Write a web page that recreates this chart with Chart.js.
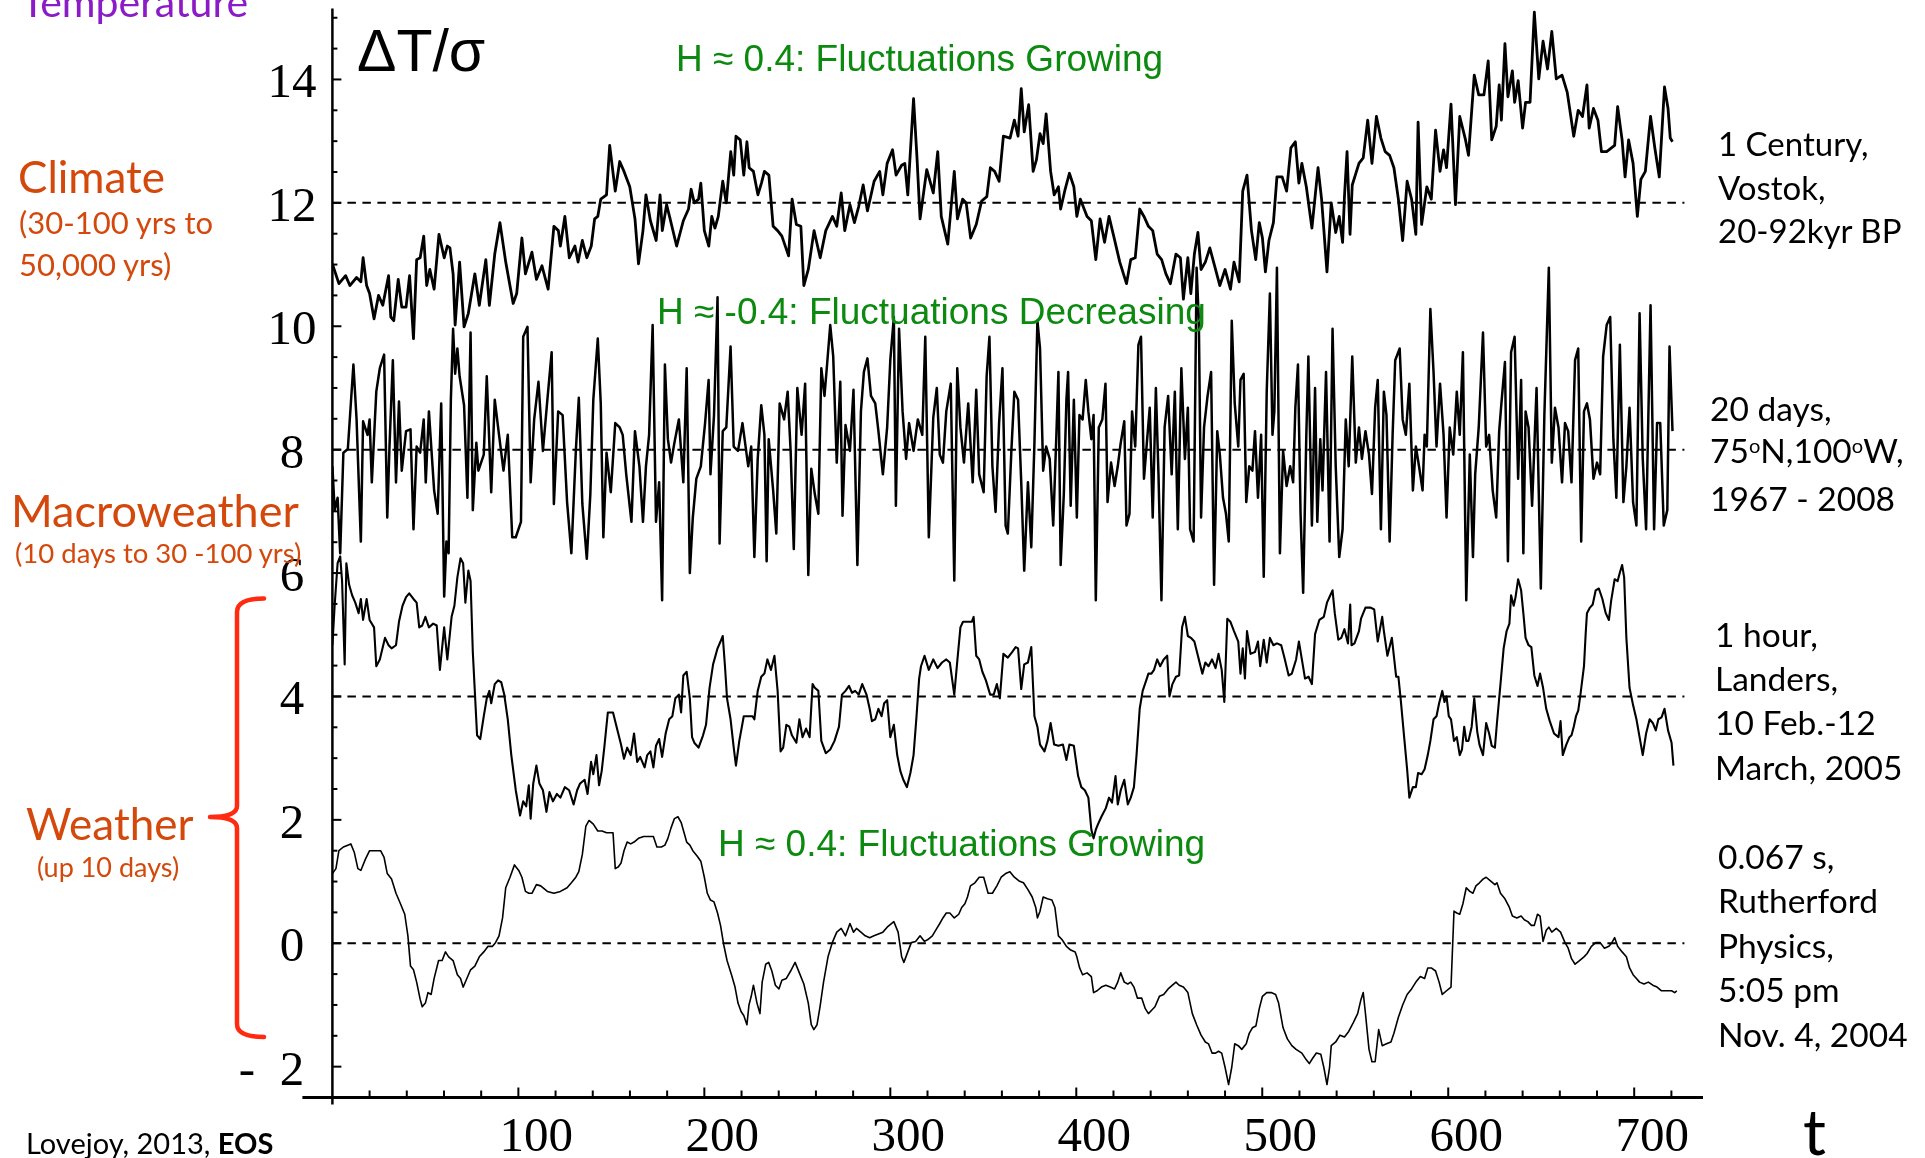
<!DOCTYPE html>
<html><head><meta charset="utf-8">
<script src="https://cdn.jsdelivr.net/npm/chart.js@4.4.1/dist/chart.umd.min.js"></script>
<style>
html,body{margin:0;padding:0;background:#fff;}
#wrap{position:relative;width:1925px;height:1158px;overflow:hidden;background:#fff;}
#c{position:absolute;left:0;top:0;}
.t{position:absolute;white-space:nowrap;margin:0;}
.lato{font-family:Lato,'Open Sans',sans-serif;line-height:1.2;}
.sans{font-family:'Liberation Sans',Arial,sans-serif;line-height:1.117;}
.orange{color:#D4480C;}
.green{color:#0C8A10;}
.blk{color:#000;}
.sup{font-size:0.6em;position:relative;top:-0.5em;}
</style></head>
<body><div id="wrap">
<canvas id="c" width="1925" height="1158"></canvas>
<div class="t lato" style="left:21px;top:-23.5px;font-size:41px;color:#8B1BC6;">Temperature</div>
<div class="t lato orange" style="left:18px;top:149.6px;font-size:44px;">Climate</div>
<div class="t lato orange" style="left:19px;top:204.4px;font-size:31px;">(30-100 yrs to</div>
<div class="t lato orange" style="left:19px;top:246.4px;font-size:31px;">50,000 yrs)</div>
<div class="t lato orange" style="left:11px;top:482.6px;font-size:45px;">Macroweather</div>
<div class="t lato orange" style="left:15px;top:535.9px;font-size:27.5px;">(10 days to 30 -100 yrs)</div>
<div class="t lato orange" style="left:26px;top:796.6px;font-size:44px;">Weather</div>
<div class="t lato orange" style="left:37px;top:851.4px;font-size:27px;">(up 10 days)</div>
<div class="t lato blk" style="left:26px;top:1126.4px;font-size:29px;">Lovejoy, 2013, <b>EOS</b></div>
<div class="t sans blk" style="left:357px;top:18.6px;font-size:59px;">ΔT/σ</div>
<div class="t sans green" style="left:676px;top:37.5px;font-size:37px;">H ≈ 0.4: Fluctuations Growing</div>
<div class="t sans green" style="left:657px;top:290.5px;font-size:37px;">H ≈ -0.4: Fluctuations Decreasing</div>
<div class="t sans green" style="left:718px;top:822.5px;font-size:37px;">H ≈ 0.4: Fluctuations Growing</div>
<div class="t lato blk" style="left:1718px;top:122.1px;font-size:33px;line-height:43.5px;">1 Century,<br>Vostok,<br>20-92kyr BP</div>
<div class="t lato blk" style="left:1710px;top:386.6px;font-size:33.5px;line-height:42.5px;">20 days,<br>75<span class="sup">o</span>N,100<span class="sup">o</span>W,<br>1967 - 2008</div>
<div class="t lato blk" style="left:1715px;top:611.7px;font-size:33.5px;line-height:44.3px;">1 hour,<br>Landers,<br>10 Feb.-12<br>March, 2005</div>
<div class="t lato blk" style="left:1718px;top:833.6px;font-size:33.5px;line-height:44.5px;">0.067 s,<br>Rutherford<br>Physics,<br>5:05 pm<br>Nov. 4, 2004</div>
<div class="t lato blk" style="left:1803px;top:1092.8px;font-size:64px;">t</div>
</div>
<script>
// ---- tick definitions ----
const xTickLabels = [100, 200, 300, 400, 500, 600, 700];
const yTickLabels = [-2, 0, 2, 4, 6, 8, 10, 12, 14];
const refLevels = [12, 8, 4, 0];
const refSpan = [0, 727];

// ---- series 1: 1 Century, Vostok (around 12) ----
const vostokT = [0,3.5,7.1,9.4,13.0,15.3,16.5,18.4,20.0,22.4,
24.8,27.1,30.2,31.4,33.0,35.4,37.3,39.6,41.5,43.6,
45.3,47.2,49.1,50.7,52.4,54.7,57.3,60.1,61.8,63.2,
64.9,66.0,68.4,70.8,73.1,76.6,79.0,82.5,84.4,87.3,
90.1,93.2,97.2,99.1,101.9,103.8,107.3,109.7,112.7,116.0,
119.1,121.5,122.6,125.0,127.4,130.4,132.1,134.4,136.8,139.2,
141.0,142.7,144.3,147.4,149.1,152.1,154.5,156.8,159.9,162.7,
164.6,167.0,168.6,171.0,174.1,176.2,177.4,179.7,181.6,185.1,
188.7,191.5,192.9,194.6,196.9,198.1,200.0,202.4,204.0,205.7,
207.5,209.9,211.8,214.2,215.8,217.0,219.3,221.2,222.9,224.1,
226.4,228.8,230.7,232.3,234.7,237.0,239.4,241.7,245.3,247.2,
249.5,251.9,253.5,255.9,259.0,262.3,265.3,268.9,271.2,273.6,
275.5,278.3,280.7,283.0,285.4,287.7,291.3,294.3,296.0,298.3,
301.2,303.1,306.1,307.8,309.4,312.5,314.4,316.0,319.6,323.1,
325.5,327.4,330.9,334.4,336.1,338.9,340.8,343.2,346.2,349.1,
351.9,353.8,356.1,358.5,360.8,364.4,366.7,
368.7,370.4,372.0,374.4,376.8,378.6,380.5,382.2,383.8,386.2,
388.1,390.4,391.6,394.0,396.3,398.7,400.3,402.2,405.8,408.1,
410.5,412.8,415.2,417.6,419.9,423.4,427.0,429.3,431.7,434.1,
436.4,438.8,441.1,443.5,445.9,448.2,450.6,453.6,456.0,457.6,
460.0,461.6,463.5,465.4,467.1,469.4,471.8,474.1,477.2,480.0,
482.9,484.8,487.6,489.5,491.8,494.2,496.5,498.4,500.1,501.7,
503.6,506.0,507.9,510.7,513.1,515.4,517.8,519.7,521.3,523.7,
526.7,530.0,531.9,534.8,537.1,539.5,541.4,543.2,544.2,545.6,
547.2,548.4,552.0,554.3,556.7,559.0,561.4,563.8,566.1,568.5,
570.8,573.2,575.5,577.9,580.3,582.6,583.8,585.7,588.5,590.9,
593.2,595.6,597.5,599.1,601.5,603.9,606.2,609.3,610.9,614.0,
616.4,619.2,621.5,623.4,625.8,627.4,628.6,630.5,632.1,634.5,
635.7,637.6,640.0,641.6,644.0,646.3,648.7,651.0,653.4,655.7,
658.1,661.2,664.0,667.5,669.9,672.2,674.6,675.8,678.1,680.5,
682.4,685.2,689.5,691.1,693.5,695.1,697.0,699.4,701.7,703.6,
706.0,708.8,711.1,713.5,716.3,718.2,719.4,720.6];
const vostokV = [11.01,10.69,10.82,10.66,10.79,10.72,11.11,10.66,10.53,10.12,
10.50,10.34,10.82,10.15,10.09,10.76,10.31,10.31,10.82,9.80,
11.08,11.11,11.46,10.66,10.92,10.60,11.49,11.11,11.30,11.27,
10.85,10.02,11.04,9.99,10.21,10.85,10.34,11.08,10.34,11.17,
11.68,11.04,10.37,10.53,11.43,10.85,11.20,10.76,10.98,10.60,
11.62,11.55,11.30,11.78,11.11,11.30,11.04,11.39,11.11,11.30,
11.74,11.78,12.06,12.13,12.93,12.19,12.67,12.51,12.26,11.74,
11.01,11.55,12.13,11.71,11.39,12.13,11.55,11.97,11.74,11.30,
11.71,11.90,12.22,12.00,12.06,12.32,11.55,11.30,11.78,11.59,
11.78,12.35,12.00,12.83,12.45,13.08,13.02,12.45,12.99,12.57,
12.51,12.13,12.32,12.51,12.45,11.62,11.55,11.46,11.14,12.06,
11.65,11.62,10.66,10.92,11.55,11.11,11.55,11.78,11.62,12.16,
11.55,11.97,11.68,11.94,12.29,11.87,12.35,12.51,12.13,12.64,
12.86,12.45,12.61,12.64,12.13,13.69,12.70,11.74,12.54,12.16,
12.83,11.78,11.33,12.51,11.74,12.06,12.00,11.43,11.65,12.03,
12.10,12.57,12.51,12.35,13.08,13.05,13.34,
13.08,13.85,13.15,13.59,12.51,12.70,13.12,12.96,13.44,12.51,
12.13,12.26,11.90,12.22,12.48,12.26,11.78,12.06,11.78,11.71,
11.08,11.74,11.36,11.78,11.49,11.04,10.69,11.08,11.11,11.90,
11.78,11.62,11.55,11.17,11.08,10.85,10.69,11.17,11.11,10.44,
11.11,10.53,11.17,11.52,10.92,11.04,11.27,11.01,10.66,10.92,
10.60,11.04,10.72,12.19,12.45,11.55,11.08,11.68,11.43,10.88,
11.39,11.68,12.42,12.42,12.19,12.89,12.99,12.32,12.64,12.26,
11.59,12.57,12.06,10.88,12.00,11.52,11.78,11.36,12.10,12.83,
11.49,12.29,12.64,12.73,13.34,12.64,13.40,13.05,12.83,12.77,
12.57,12.06,11.39,12.35,12.06,11.49,13.31,11.65,12.26,12.06,
13.18,12.51,12.86,12.57,13.60,11.97,13.40,13.02,12.77,14.07,
13.75,13.75,14.30,13.02,13.24,13.91,13.34,14.58,13.72,14.14,
13.63,13.98,13.21,13.63,13.63,15.09,14.01,14.62,14.17,14.78,
14.01,14.07,13.79,13.08,13.50,13.40,13.91,13.21,13.53,13.34,
12.83,12.83,12.93,13.56,13.02,12.42,13.02,12.64,11.78,12.38,
12.51,13.40,12.89,12.42,13.88,13.53,13.05,12.99];

// ---- series 2: 20 days, 75N 100W (around 8) ----
const arcticT = [0.0,1.2,2.8,4.2,5.9,8.3,11.3,13.0,15.3,16.5,
18.9,20.0,21.2,23.6,25.5,27.8,29.5,30.7,32.5,34.2,
35.8,37.3,39.6,42.0,43.6,45.3,47.2,49.1,50.2,51.9,
54.7,56.6,58.5,60.1,61.3,62.5,63.7,64.9,66.0,67.2,
68.4,70.8,72.6,74.3,75.5,77.4,78.5,81.4,83.0,85.4,
87.3,89.6,92.0,94.3,96.7,98.6,101.4,102.6,104.9,106.6,
108.5,110.8,113.2,115.6,117.9,119.1,121.4,123.8,126.2,128.5,
130.9,132.5,134.4,136.8,138.7,140.3,142.7,144.3,145.7,147.4,
149.7,152.1,154.5,156.1,158.0,160.8,162.7,165.1,167.0,168.6,
170.3,172.2,174.0,175.7,177.3,178.8,180.4,182.1,183.9,186.3,
188.7,190.5,192.2,193.8,195.7,198.1,200.4,202.3,203.3,205.2,
207.1,208.2,209.9,211.8,214.1,215.8,218.1,220.5,223.6,225.2,
226.9,228.7,230.6,232.3,233.5,234.6,237.0,238.7,240.5,242.9,
244.8,246.4,248.1,250.0,252.3,254.2,255.9,257.5,259.4,261.3,
262.9,264.6,266.0,267.7,269.3,271.2,273.1,274.3,275.9,278.3,
280.2,282.3,284.2,285.8,287.7,289.6,291.9,293.6,296.0,298.3,
300.0,301.9,303.0,304.7,306.6,308.5,310.1,312.5,314.8,317.2,
318.8,320.7,323.1,325.0,326.6,328.3,330.1,332.5,334.4,336.0,
337.7,339.6,341.9,344.3,346.2,347.8,350.2,351.8,353.3,354.9,
356.6,358.5,360.3,362.0,363.2,365.1,366.7,
368.7,370.4,372.0,374.0,375.8,377.5,379.1,380.5,382.2,383.8,
385.7,387.6,389.3,390.4,391.6,393.3,394.7,395.6,397.0,398.7,
400.3,401.7,403.4,405.1,406.5,408.1,409.3,410.5,412.1,414.0,
415.7,416.8,418.7,420.6,422.3,423.9,425.8,427.0,428.6,430.0,
431.7,433.4,434.8,436.4,437.6,439.5,441.1,442.8,444.2,445.8,
447.5,449.4,451.3,453.0,454.6,456.5,458.4,460.0,461.2,463.1,
464.7,465.9,467.1,468.7,470.6,472.5,474.1,475.8,477.2,478.9,
480.5,482.0,483.6,485.2,487.1,488.3,490.0,491.4,493.0,494.7,
496.1,497.7,499.4,500.8,502.4,504.1,505.5,506.5,507.9,509.5,
511.2,513.1,515.0,516.6,517.8,519.2,520.6,522.0,523.7,524.8,
526.7,528.4,529.6,531.2,532.4,534.3,536.2,537.8,539.5,541.4,
543.2,544.9,546.5,548.4,550.3,552.0,553.6,555.5,557.4,559.0,
560.7,562.1,563.8,565.4,566.8,568.5,570.1,571.5,573.9,575.5,
577.2,579.1,581.0,582.6,584.3,586.2,587.3,588.5,590.4,592.1,
593.7,595.6,597.5,599.1,600.8,602.7,604.6,606.2,607.9,609.7,
611.6,613.3,614.5,616.4,618.7,620.4,622.0,623.9,625.8,627.4,
628.6,630.5,632.1,633.8,635.7,637.6,639.2,640.4,641.6,643.2,
645.1,647.5,649.8,651.7,654.1,655.7,657.4,659.3,661.2,662.8,
664.5,666.3,668.2,669.9,671.5,673.0,674.6,676.2,678.1,680.0,
681.7,683.3,685.2,687.1,688.8,690.4,692.3,694.2,695.8,697.5,
699.4,701.2,702.9,704.6,706.4,708.8,710.7,712.3,714.0,715.9,
717.8,719.0,720.6];
const arcticV = [7.73,7.02,7.22,6.32,7.95,8.01,9.38,8.49,6.51,8.46,
8.24,8.49,7.47,8.94,9.32,9.54,6.90,8.05,9.45,7.47,
8.78,7.66,8.30,8.33,6.71,8.05,7.95,8.49,7.47,8.62,
7.34,6.96,8.75,5.62,6.51,6.32,8.81,9.96,9.23,9.64,
9.19,8.72,7.22,9.90,7.02,8.11,7.66,7.92,9.19,7.31,
8.81,8.24,7.66,8.24,6.58,6.58,6.83,9.83,9.99,7.47,
8.49,9.10,7.98,8.81,9.58,7.12,8.62,8.56,7.15,6.32,
7.98,8.84,7.12,6.23,7.28,8.81,9.80,8.75,6.58,7.95,
7.31,8.43,8.36,8.24,7.60,6.83,8.30,7.73,6.83,7.73,
8.24,10.02,6.83,7.47,5.56,9.38,8.17,7.79,8.11,8.49,
7.47,9.32,6.00,6.90,7.53,7.73,8.43,9.13,7.60,8.56,
10.47,6.48,8.30,8.36,9.67,8.05,7.98,8.43,7.73,8.05,
6.26,7.85,8.72,8.24,6.19,8.17,7.34,6.64,8.75,8.49,
8.94,7.98,6.39,9.00,8.24,9.07,5.97,7.69,7.28,6.96,
9.32,8.87,9.38,10.02,9.51,7.79,9.10,6.93,8.40,7.98,
8.97,6.13,8.62,9.26,9.48,8.87,8.75,8.30,7.60,8.36,
9.45,10.15,7.09,9.96,8.62,7.85,8.43,7.98,8.49,8.24,
9.83,6.58,8.52,9.00,7.92,7.79,8.62,9.07,5.88,9.32,
8.36,7.79,8.75,7.47,8.97,7.60,7.31,9.19,9.83,7.73,
6.99,8.43,9.32,6.77,6.64,7.98,8.94,
8.81,7.47,6.04,7.47,6.42,8.11,10.09,9.64,7.66,8.05,
7.85,6.77,8.24,9.26,6.13,7.28,8.81,9.26,7.09,8.81,
6.90,8.56,8.49,9.13,8.62,8.17,8.56,5.56,8.36,8.49,
9.07,7.15,7.79,7.41,7.73,8.11,8.46,6.77,6.96,8.62,
8.05,9.70,9.83,7.53,7.98,8.68,6.90,9.00,7.60,5.56,
8.36,8.87,7.60,8.94,6.71,9.32,7.85,8.68,6.71,6.51,
10.95,10.09,6.90,8.36,8.87,9.26,5.81,8.30,7.92,7.22,
6.96,6.51,10.09,8.75,8.05,9.13,9.23,7.15,7.73,7.66,
8.30,7.22,8.24,5.94,8.94,10.53,8.24,8.62,10.95,6.32,
7.98,7.41,7.73,7.47,8.68,9.38,6.96,5.68,8.24,9.51,
6.77,9.00,6.83,8.17,7.34,9.26,6.51,9.96,7.73,6.26,
6.71,8.49,7.73,9.51,7.79,8.36,7.85,8.30,7.92,7.28,
8.68,9.13,6.71,8.94,8.56,6.51,8.24,9.45,9.64,8.49,
8.24,9.07,7.34,8.05,7.73,7.34,8.24,8.05,10.28,9.26,
8.05,9.07,8.24,6.90,8.36,7.92,8.94,8.24,9.58,5.56,
7.92,6.26,7.60,8.36,9.90,8.05,8.24,7.34,6.90,8.30,
8.75,9.42,6.19,9.58,9.83,7.53,9.13,6.32,8.62,8.36,
7.09,9.00,5.75,8.56,10.95,7.79,8.68,8.36,7.47,8.43,
8.30,7.47,9.45,9.64,6.51,8.62,8.75,8.49,7.53,7.79,
7.60,9.51,10.02,10.15,8.17,7.22,9.70,7.15,7.73,8.68,
7.15,6.77,10.21,7.85,6.71,10.34,6.71,8.43,8.43,6.77,
7.02,9.67,8.30];

// ---- series 3: 1 hour, Landers (around 4) ----
const landersT = [0.0,1.2,2.8,4.2,5.2,6.6,7.5,9.0,10.6,12.3,
14.1,15.3,16.5,18.4,20.0,22.4,23.6,25.5,28.3,30.2,
31.8,34.2,35.8,37.7,39.6,41.3,43.6,45.3,46.7,48.3,
50.0,51.9,54.2,56.1,57.8,60.1,61.8,64.1,65.6,67.2,
68.9,70.3,71.5,73.1,74.3,75.5,77.8,79.5,81.4,83.0,
84.4,85.4,87.3,89.1,90.8,92.4,94.3,96.2,98.6,100.9,
102.6,104.2,105.6,106.6,108.0,109.7,111.3,113.2,115.1,116.7,
118.6,120.7,122.6,125.0,127.3,129.7,131.6,133.2,135.6,137.2,
139.1,140.3,142.0,143.4,144.8,146.2,148.1,150.9,152.8,155.2,
156.8,158.5,160.4,162.2,163.9,165.5,167.9,169.3,171.0,172.6,
174.0,175.7,177.3,179.2,181.1,182.8,184.4,186.3,187.5,188.7,
190.5,192.2,193.4,194.6,196.9,199.3,200.9,202.8,204.7,207.1,
208.7,209.9,211.1,212.2,214.1,215.8,217.0,218.8,221.2,224.0,
225.9,226.9,228.7,230.6,232.3,233.9,235.8,237.7,239.4,241.0,
242.4,244.1,245.7,247.1,249.5,251.1,252.8,254.7,256.6,258.2,
259.4,261.3,262.9,265.3,267.7,270.0,272.4,274.0,275.9,277.8,
279.4,281.1,283.0,284.9,287.2,288.9,290.1,291.9,293.6,295.3,
296.7,298.3,300.0,301.9,303.7,305.4,307.0,308.9,310.8,312.5,
314.1,315.5,316.5,318.4,320.7,323.1,325.4,327.8,330.1,332.0,
334.4,336.1,337.7,339.1,341.5,343.8,344.8,346.2,347.8,349.5,
351.4,353.7,355.6,357.3,358.9,360.8,363.2,365.5,367.4,
368.7,370.4,372.0,374.0,375.8,377.5,379.1,380.5,382.9,384.5,
386.2,388.1,390.4,392.8,394.7,396.3,398.7,401.0,402.7,404.6,
406.5,408.1,409.3,410.5,411.7,413.5,415.9,417.6,419.2,421.1,
422.3,423.9,425.8,427.7,429.3,431.0,432.4,434.1,435.7,437.6,
438.8,440.4,441.8,443.5,445.1,447.0,448.9,450.1,451.7,453.6,
455.3,456.9,458.4,460.0,461.6,463.5,465.4,467.8,469.4,471.1,
473.0,474.9,476.5,478.2,479.6,481.2,482.9,484.8,487.1,488.3,
489.5,490.7,491.8,493.7,496.1,497.7,498.9,500.8,502.4,504.1,
506.0,507.9,510.2,511.9,514.2,515.9,518.2,519.7,521.3,523.0,
524.9,526.7,528.4,530.7,533.1,534.8,536.6,537.8,539.0,540.9,
542.5,544.2,546.1,547.3,548.0,549.6,552.0,553.1,555.5,558.3,
560.2,562.1,564.5,565.4,567.3,569.7,572.0,573.2,574.4,576.3,
577.9,579.1,581.0,582.6,583.8,585.7,587.3,589.0,590.4,592.1,
593.7,595.1,596.8,598.0,599.1,600.3,601.5,603.1,604.6,606.2,
607.4,608.6,609.7,610.9,612.6,614.0,615.6,616.8,618.7,620.4,
622.0,623.4,625.1,626.2,628.1,629.8,631.4,632.9,633.8,635.2,
636.2,637.6,639.2,640.4,641.6,643.2,644.7,646.3,648.0,649.4,
651.0,652.7,654.6,656.9,659.3,660.4,661.6,663.5,665.2,666.3,
667.5,668.7,669.9,671.1,673.0,673.9,674.6,676.2,677.7,679.3,
681.0,682.9,684.7,686.4,687.6,689.5,691.1,692.3,693.5,694.6,
695.8,697.5,699.4,701.2,702.9,704.6,706.4,708.3,710.0,711.6,
713.0,714.7,716.3,718.2,720.1,721.1];
const landersV = [4.83,5.47,6.16,6.27,5.87,4.52,6.16,5.81,5.64,5.52,
5.35,5.58,5.24,5.58,5.24,5.12,4.49,4.60,4.95,4.83,
4.78,4.83,5.21,5.47,5.61,5.67,5.58,5.52,5.12,5.15,
5.29,5.12,5.18,5.15,4.43,5.12,4.60,5.29,5.47,5.93,
6.24,6.16,5.52,6.04,5.87,4.72,3.37,3.31,3.68,3.97,
4.09,3.89,4.20,4.26,4.23,4.03,3.63,3.05,2.48,2.07,
2.30,2.22,2.56,2.02,2.59,2.88,2.59,2.48,2.13,2.45,
2.30,2.42,2.36,2.53,2.48,2.25,2.48,2.59,2.65,2.42,
2.94,2.74,3.05,2.56,2.79,3.17,3.74,3.74,3.51,3.22,
2.99,3.17,3.05,3.40,2.94,3.02,2.85,3.05,3.11,2.85,
3.20,3.31,3.02,3.40,3.63,3.68,3.97,4.03,3.74,4.34,
4.40,3.97,3.34,3.25,3.17,3.37,3.54,4.14,4.52,4.78,
4.89,4.98,4.49,3.97,3.63,3.17,2.88,3.28,3.68,3.68,
3.68,3.63,4.09,4.32,4.37,4.60,4.43,4.66,4.09,3.11,
3.17,3.54,3.51,3.37,3.25,3.63,3.34,3.48,3.34,4.20,
4.14,4.09,3.28,3.08,3.14,3.28,3.51,4.03,4.09,4.17,
4.06,4.09,4.03,4.20,4.03,3.80,3.60,3.63,3.80,3.68,
3.89,3.94,3.34,3.54,3.05,2.79,2.65,2.53,2.76,3.05,
3.68,4.29,4.49,4.66,4.43,4.60,4.46,4.55,4.60,4.55,
4.03,4.60,5.12,5.21,5.21,5.21,5.29,4.66,4.60,4.40,
4.26,4.03,4.03,4.20,3.97,4.69,4.63,4.72,4.80,
4.78,4.12,4.52,4.55,4.80,3.68,3.51,3.22,3.11,3.28,
3.57,3.22,3.20,3.22,2.97,3.22,3.20,2.71,2.53,2.48,
2.36,1.84,1.70,1.84,1.93,2.05,2.19,2.36,2.28,2.71,
2.25,2.48,2.65,2.25,2.36,2.53,3.05,3.80,4.09,4.26,
4.37,4.37,4.43,4.60,4.49,4.60,4.66,4.00,4.20,4.32,
4.34,5.12,5.29,4.98,4.95,4.89,4.66,4.37,4.55,4.49,
4.60,4.46,4.69,4.43,3.91,5.26,5.21,5.06,4.89,4.37,
4.78,4.29,5.06,4.69,4.72,4.89,4.49,4.92,4.55,4.95,
4.83,4.86,4.83,4.63,4.34,4.37,4.60,4.89,4.60,4.29,
4.32,4.20,5.01,5.24,5.29,5.52,5.64,5.72,5.35,4.92,
4.95,5.09,4.86,5.49,4.83,4.86,5.06,5.26,5.44,5.44,
5.41,4.89,5.29,5.06,4.66,4.95,4.32,4.32,3.97,3.34,
2.82,2.36,2.53,2.53,2.76,2.74,2.82,3.05,3.28,3.63,
3.68,3.89,4.09,3.91,4.00,3.68,3.63,3.28,3.34,3.05,
3.14,3.51,3.28,3.28,3.51,3.97,3.43,3.22,3.05,3.57,
3.40,3.20,3.17,3.57,4.20,4.78,5.06,5.18,5.64,5.47,
5.61,5.90,5.72,5.35,4.95,4.83,4.80,4.34,4.17,4.37,
4.14,3.80,3.60,3.40,3.34,3.60,3.05,3.22,3.34,3.37,
3.51,3.68,3.77,4.03,4.49,5.01,5.35,5.44,5.49,5.72,
5.75,5.58,5.35,5.24,5.55,5.90,5.87,6.01,6.13,5.93,
4.95,4.14,3.86,3.63,3.34,3.05,3.40,3.63,3.57,3.45,
3.63,3.66,3.80,3.45,3.25,2.88];

// ---- series 4: 0.067 s, Rutherford Physics (around 0) ----
const rutherT = [0.0,1.9,3.5,5.9,8.3,9.9,11.8,13.7,15.3,17.7,
20.0,22.4,25.9,27.8,29.5,31.8,34.2,36.6,38.9,40.6,
42.0,43.6,45.3,47.2,48.3,50.0,51.4,53.1,54.7,57.1,
59.0,60.8,62.5,64.9,67.2,68.9,70.3,71.9,74.3,76.6,
79.0,81.4,83.7,86.1,87.7,89.6,91.5,93.2,95.5,97.9,
100.2,101.9,103.8,105.6,107.3,109.7,112.0,115.6,119.1,122.6,
126.2,128.5,130.9,132.5,134.4,136.3,138.0,140.3,142.7,145.0,
147.4,150.9,152.1,153.8,155.2,156.8,158.5,160.4,162.2,164.6,
167.4,170.3,172.6,174.5,176.9,178.8,180.4,182.1,183.9,185.8,
187.5,189.1,190.5,192.2,193.8,196.2,198.1,200.0,201.6,203.3,
205.2,207.1,208.7,210.4,212.2,214.6,216.5,218.1,219.8,221.2,
222.9,224.0,225.2,226.4,228.3,229.9,231.1,233.0,234.6,236.3,
238.2,240.1,241.7,244.1,246.4,248.8,251.1,253.5,255.9,257.5,
258.9,260.6,262.2,264.1,266.5,268.8,271.2,273.6,275.9,278.3,
280.2,281.8,284.2,286.5,288.9,291.2,293.6,296.0,298.3,301.9,
304.2,306.1,307.3,309.4,311.3,313.6,316.0,318.4,320.2,322.6,
325.0,326.6,328.3,330.1,332.0,334.4,336.8,338.4,340.1,341.5,
343.1,345.5,347.8,350.2,352.6,354.9,357.3,359.6,362.0,364.3,
366.7,
369.2,371.6,374.0,376.3,378.2,379.1,380.5,382.2,384.5,386.9,
388.5,390.4,392.3,394.7,397.0,399.4,400.3,401.8,403.4,405.8,
408.1,409.3,411.2,413.5,415.9,418.3,420.6,422.3,423.9,425.8,
427.7,429.3,431.0,432.9,435.2,437.1,438.8,440.4,442.3,444.7,
447.0,449.4,451.7,453.6,455.3,457.6,460.0,462.4,464.7,467.1,
469.4,471.1,473.0,474.9,476.5,478.2,480.0,481.9,483.6,485.2,
487.1,489.0,491.4,493.0,494.7,496.6,498.4,500.1,502.4,504.8,
507.2,508.8,511.2,513.5,515.9,518.2,521.3,523.7,525.3,527.2,
529.1,531.5,533.1,534.8,536.2,537.1,539.5,541.8,544.2,546.5,
548.9,551.3,553.1,554.3,555.5,557.4,559.0,560.7,562.6,564.5,
566.8,569.2,570.8,573.2,575.5,577.9,580.3,582.6,585.0,587.3,
589.0,590.9,593.2,595.1,596.8,599.1,601.5,603.1,604.6,606.2,
607.9,609.7,611.6,613.3,614.9,616.8,618.7,620.4,622.7,625.1,
626.2,628.1,630.5,632.9,634.5,636.9,639.2,640.9,642.8,644.7,
646.3,648.0,649.4,651.0,652.7,654.1,655.7,658.1,660.4,662.8,
664.5,666.3,668.2,670.6,673.0,674.6,677.0,679.3,681.7,684.0,
686.4,688.0,689.5,691.1,693.5,695.8,697.5,699.4,701.2,702.9,
705.3,707.6,710.0,712.3,714.7,717.8,720.1,721.8,722.9];
const rutherV = [1.13,1.21,1.50,1.56,1.59,1.61,1.47,1.21,1.18,1.36,
1.50,1.50,1.50,1.39,1.13,1.04,0.81,0.64,0.47,0.12,
-0.37,-0.43,-0.63,-0.91,-1.03,-0.97,-0.80,-0.83,-0.57,-0.28,
-0.28,-0.14,-0.22,-0.28,-0.51,-0.57,-0.71,-0.60,-0.43,-0.37,
-0.22,-0.14,-0.05,-0.05,0.01,0.12,0.41,0.90,1.07,1.27,
1.18,1.07,0.84,0.81,0.81,0.95,0.93,0.84,0.81,0.84,
0.90,0.98,1.07,1.16,1.44,1.90,1.99,1.93,1.82,1.82,
1.79,1.79,1.21,1.24,1.30,1.50,1.64,1.61,1.64,1.70,
1.73,1.73,1.73,1.56,1.56,1.59,1.70,1.87,2.02,2.05,
1.96,1.79,1.64,1.59,1.50,1.41,1.33,1.07,0.81,0.70,
0.67,0.49,0.29,-0.02,-0.28,-0.51,-0.71,-0.97,-1.11,-1.17,
-1.32,-1.00,-0.86,-0.68,-0.97,-1.14,-0.63,-0.34,-0.31,-0.45,
-0.68,-0.74,-0.60,-0.57,-0.45,-0.31,-0.48,-0.66,-0.97,-1.32,
-1.40,-1.32,-1.03,-0.63,-0.22,0.01,0.18,0.24,0.12,0.32,
0.18,0.24,0.18,0.12,0.09,0.12,0.15,0.18,0.26,0.35,
0.18,-0.22,-0.31,-0.14,0.01,0.03,0.12,0.03,0.06,0.12,
0.24,0.32,0.41,0.49,0.49,0.41,0.47,0.58,0.64,0.75,
0.93,0.98,1.07,1.07,0.81,0.81,0.93,1.07,1.13,1.16,
1.07,
1.01,0.98,0.87,0.75,0.58,0.41,0.52,0.75,0.72,0.70,
0.58,0.12,0.06,-0.05,-0.11,-0.14,-0.22,-0.40,-0.51,-0.48,
-0.54,-0.80,-0.77,-0.71,-0.68,-0.71,-0.74,-0.63,-0.48,-0.63,
-0.66,-0.63,-0.71,-0.89,-0.89,-1.06,-1.14,-1.09,-1.03,-0.86,
-0.83,-0.74,-0.68,-0.63,-0.68,-0.71,-0.80,-1.14,-1.32,-1.49,
-1.60,-1.63,-1.78,-1.78,-1.75,-1.78,-2.01,-2.29,-2.01,-1.63,
-1.66,-1.72,-1.63,-1.46,-1.37,-1.34,-1.06,-0.86,-0.80,-0.80,
-0.83,-0.97,-1.37,-1.55,-1.66,-1.72,-1.78,-1.89,-1.95,-1.86,
-1.78,-1.80,-2.01,-2.29,-2.01,-1.66,-1.60,-1.49,-1.52,-1.43,
-1.29,-1.14,-0.91,-0.80,-1.14,-1.72,-1.92,-1.92,-1.40,-1.66,
-1.63,-1.60,-1.46,-1.20,-1.00,-0.83,-0.74,-0.63,-0.54,-0.57,
-0.40,-0.40,-0.45,-0.63,-0.83,-0.77,-0.71,0.52,0.49,0.47,
0.64,0.90,0.84,0.81,0.93,0.98,1.04,1.07,1.01,0.95,
0.98,0.81,0.72,0.58,0.44,0.41,0.44,0.38,0.35,0.29,
0.29,0.47,0.44,0.03,0.21,0.26,0.18,0.24,0.18,0.01,
-0.08,-0.25,-0.34,-0.28,-0.22,-0.17,-0.05,0.01,0.01,-0.08,
-0.05,0.01,0.09,-0.05,-0.14,-0.22,-0.40,-0.51,-0.57,-0.63,
-0.66,-0.63,-0.68,-0.71,-0.77,-0.77,-0.77,-0.80,-0.77];

// ---- build chart ----
const pts = (ts, vs) => ts.map((t, i) => ({x: t, y: vs[i]}));
const refSets = refLevels.map(lv => ({
  data: refSpan.map(t => ({x: t, y: lv})),
  borderColor: '#000', borderWidth: 2, borderDash: [8.5, 6.5], order: 10
}));
const seriesSets = [
  {data: pts(vostokT, vostokV), borderColor: '#000', borderWidth: 2.8, order: 1},
  {data: pts(arcticT, arcticV), borderColor: '#000', borderWidth: 2.5, order: 1},
  {data: pts(landersT, landersV), borderColor: '#000', borderWidth: 2.1, order: 1},
  {data: pts(rutherT, rutherV), borderColor: '#000', borderWidth: 1.6, order: 1}
];

const axesPlugin = {
  id: 'axesDraw',
  afterDraw(chart) {
    const {ctx, chartArea: a, scales: {x, y}} = chart;
    ctx.save();
    ctx.strokeStyle = '#000';
    ctx.lineCap = 'butt';
    ctx.lineWidth = 2.5;
    ctx.beginPath(); ctx.moveTo(a.left, a.top); ctx.lineTo(a.left, a.bottom + 7); ctx.stroke();
    ctx.lineWidth = 3;
    ctx.beginPath(); ctx.moveTo(a.left - 30, a.bottom); ctx.lineTo(a.right, a.bottom); ctx.stroke();
    ctx.lineWidth = 2;
    for (let v = -2; v <= 15.0001; v += 0.5) {
      const py = y.getPixelForValue(v);
      const len = Math.abs(v % 2) < 1e-6 ? 9 : 5;
      ctx.beginPath(); ctx.moveTo(a.left, py); ctx.lineTo(a.left + len, py); ctx.stroke();
    }
    for (let t = 20; t <= 720; t += 20) {
      const px = x.getPixelForValue(t);
      const len = t % 100 === 0 ? 10 : 7;
      ctx.beginPath(); ctx.moveTo(px, a.bottom); ctx.lineTo(px, a.bottom - len); ctx.stroke();
    }
    // red curly brace
    ctx.strokeStyle = '#FF2A10';
    ctx.lineWidth = 4.5;
    ctx.lineCap = 'round'; ctx.lineJoin = 'round';
    ctx.beginPath();
    ctx.moveTo(264, 598.5);
    ctx.quadraticCurveTo(237, 598.5, 237, 612);
    ctx.lineTo(237, 806);
    ctx.quadraticCurveTo(237, 817, 210, 817);
    ctx.quadraticCurveTo(237, 817, 237, 828);
    ctx.lineTo(237, 1024);
    ctx.quadraticCurveTo(237, 1037, 264, 1037);
    ctx.stroke();
    ctx.restore();
  }
};

new Chart(document.getElementById('c'), {
  type: 'line',
  data: {datasets: refSets.concat(seriesSets)},
  options: {
    responsive: false, animation: false, devicePixelRatio: 1,
    layout: {padding: {left: 0, top: 8.5, right: 222, bottom: 0}},
    plugins: {legend: {display: false}, tooltip: {enabled: false}},
    elements: {point: {radius: 0}, line: {tension: 0, borderJoinStyle: 'round', fill: false}},
    scales: {
      x: {
        type: 'linear', min: 0, max: 737,
        grid: {display: false, drawTicks: false}, border: {display: false},
        afterBuildTicks: s => { s.ticks = xTickLabels.map(v => ({value: v})); },
        afterFit: s => { s.height = 60.5; s.paddingLeft = 0; s.paddingRight = 0; },
        ticks: {
          color: '#000', font: {family: 'Liberation Serif', size: 49},
          padding: 11, labelOffset: 18, maxRotation: 0, autoSkip: false,
          callback: v => String(v)
        }
      },
      y: {
        type: 'linear', min: -2.5, max: 15.15,
        grid: {display: false, drawTicks: false}, border: {display: false},
        afterBuildTicks: s => { s.ticks = yTickLabels.map(v => ({value: v})); },
        afterFit: s => { s.width = 332.4; s.paddingTop = 0; s.paddingBottom = 0; },
        ticks: {
          color: '#000', font: {family: 'Liberation Serif', size: 49},
          padding: 16, labelOffset: 5, autoSkip: false,
          callback: v => v < 0 ? '-\u2002' + String(-v) + ' ' : (v >= 10 ? String(v) : String(v) + ' ')
        }
      }
    }
  },
  plugins: [axesPlugin]
});
</script>
</body></html>
